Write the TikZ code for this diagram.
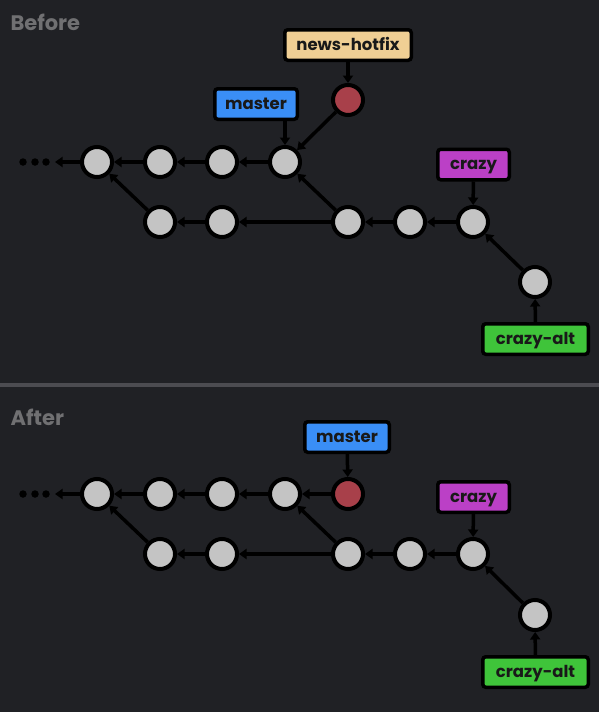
\documentclass[tikz,border=0pt]{standalone}
\usepackage{fontspec}
\setmainfont{Poppins}
\usetikzlibrary{arrows.meta}
\definecolor{bg}{HTML}{202125}
\definecolor{sepc}{HTML}{4C4C51}
\definecolor{headc}{HTML}{707072}
\definecolor{clight}{HTML}{C4C4C4}
\definecolor{cdark}{HTML}{9C9C9C}
\definecolor{rlight}{HTML}{A8404A}
\definecolor{rdark}{HTML}{7E2A33}
\definecolor{tanc}{HTML}{F0CF94}
\definecolor{bluec}{HTML}{3A8EF6}
\definecolor{purc}{HTML}{BB40C6}
\definecolor{grnc}{HTML}{3FC43A}
\begin{document}
\begin{tikzpicture}[x=1pt,y=-1pt,
  commit/.style={circle, draw=black, line width=4pt, minimum size=30pt, inner sep=0pt, fill=cdark,
    path picture={\fill[clight] ([shift={(1.1pt,1.1pt)}]path picture bounding box.center) circle (14.3pt);}},
  hot/.style={circle, draw=black, line width=4pt, minimum size=30pt, inner sep=0pt, fill=rdark,
    path picture={\fill[rlight] ([shift={(1.1pt,1.1pt)}]path picture bounding box.center) circle (14.3pt);}},
  lbl/.style={draw=black, line width=3.5pt, rounded corners=3pt, inner sep=0pt, minimum height=30.5pt,
    text height=12pt, text depth=2pt,
    font=\bfseries\fontsize{16.5}{16.5}\selectfont, text=black!90},
  arr/.style={line width=3.5pt, -{Triangle[length=7.5pt,width=10pt]}},
  dot/.style={circle, fill=black, inner sep=0pt, minimum size=7.5pt},
  head/.style={anchor=west, text=headc, font=\bfseries\fontsize{21}{21}\selectfont}]
\fill[bg] (0,0) rectangle (599,712);
\useasboundingbox (0,0) rectangle (599,712);
\fill[sepc] (0,383) rectangle (599,387);

% ---------- Before ----------
\node[head] (hb) at (7,22) {Before};
\node[dot] (d1a) at (23,162) {};
\node[dot] (d1b) at (35,162) {};
\node[dot] (d1c) at (46,162) {};
\coordinate (e1) at (55,162);
\node[commit] (n1) at (97,162) {};
\node[commit] (n2) at (160,162) {};
\node[commit] (n3) at (222,162) {};
\node[commit] (n4) at (285,162) {};
\node[commit] (b1) at (160,222) {};
\node[commit] (b2) at (222,222) {};
\node[commit] (b3) at (348,222) {};
\node[commit] (b4) at (410,222) {};
\node[commit] (b5) at (473,222) {};
\node[commit] (b6) at (535,282) {};
\node[hot] (r1) at (348,100) {};
\node[lbl, fill=tanc, minimum width=126.5pt] (lh1) at (348,45) {news-hotfix};
\node[lbl, fill=bluec, minimum width=82.5pt] (lm1) at (256,104) {master};
\node[lbl, fill=purc, minimum width=71.5pt] (lc1) at (473.5,164.5) {crazy};
\node[lbl, fill=grnc, minimum width=105.5pt] (la1) at (535.5,339) {crazy-alt};

\draw[arr] (n1) -- (e1);
\draw[arr] (n2) -- (n1);
\draw[arr] (n3) -- (n2);
\draw[arr] (n4) -- (n3);
\draw[arr] (b1) -- (n1);
\draw[arr] (b2) -- (b1);
\draw[arr] (b3) -- (b2);
\draw[arr] (b3) -- (n4);
\draw[arr] (b4) -- (b3);
\draw[arr] (b5) -- (b4);
\draw[arr] (b6) -- (b5);
\draw[arr] (r1) -- (n4);
\draw[arr] (lh1) -- (r1);
\draw[arr] (lm1.south -| n4) -- (n4);
\draw[arr] (lc1) -- (b5);
\draw[arr] (la1) -- (b6);

% ---------- After ----------
\node[head] (ha) at (7,417) {After};
\node[dot] (d2a) at (23,494) {};
\node[dot] (d2b) at (35,494) {};
\node[dot] (d2c) at (46,494) {};
\coordinate (e2) at (55,494);
\node[commit] (m1) at (97,494) {};
\node[commit] (m2) at (160,494) {};
\node[commit] (m3) at (222,494) {};
\node[commit] (m4) at (285,494) {};
\node[hot] (r2) at (348,494) {};
\node[commit] (c1) at (160,554) {};
\node[commit] (c2) at (222,554) {};
\node[commit] (c3) at (348,554) {};
\node[commit] (c4) at (410,554) {};
\node[commit] (c5) at (473,554) {};
\node[commit] (c6) at (535,615) {};
\node[lbl, fill=bluec, minimum width=84.5pt] (lm2) at (347,437) {master};
\node[lbl, fill=purc, minimum width=71.5pt] (lc2) at (473.5,497) {crazy};
\node[lbl, fill=grnc, minimum width=105.5pt] (la2) at (535.5,672) {crazy-alt};

\draw[arr] (m1) -- (e2);
\draw[arr] (m2) -- (m1);
\draw[arr] (m3) -- (m2);
\draw[arr] (m4) -- (m3);
\draw[arr] (r2) -- (m4);
\draw[arr] (c1) -- (m1);
\draw[arr] (c2) -- (c1);
\draw[arr] (c3) -- (c2);
\draw[arr] (c3) -- (m4);
\draw[arr] (c4) -- (c3);
\draw[arr] (c5) -- (c4);
\draw[arr] (c6) -- (c5);
\draw[arr] (lm2) -- (r2);
\draw[arr] (lc2) -- (c5);
\draw[arr] (la2) -- (c6);
\end{tikzpicture}
\end{document}
